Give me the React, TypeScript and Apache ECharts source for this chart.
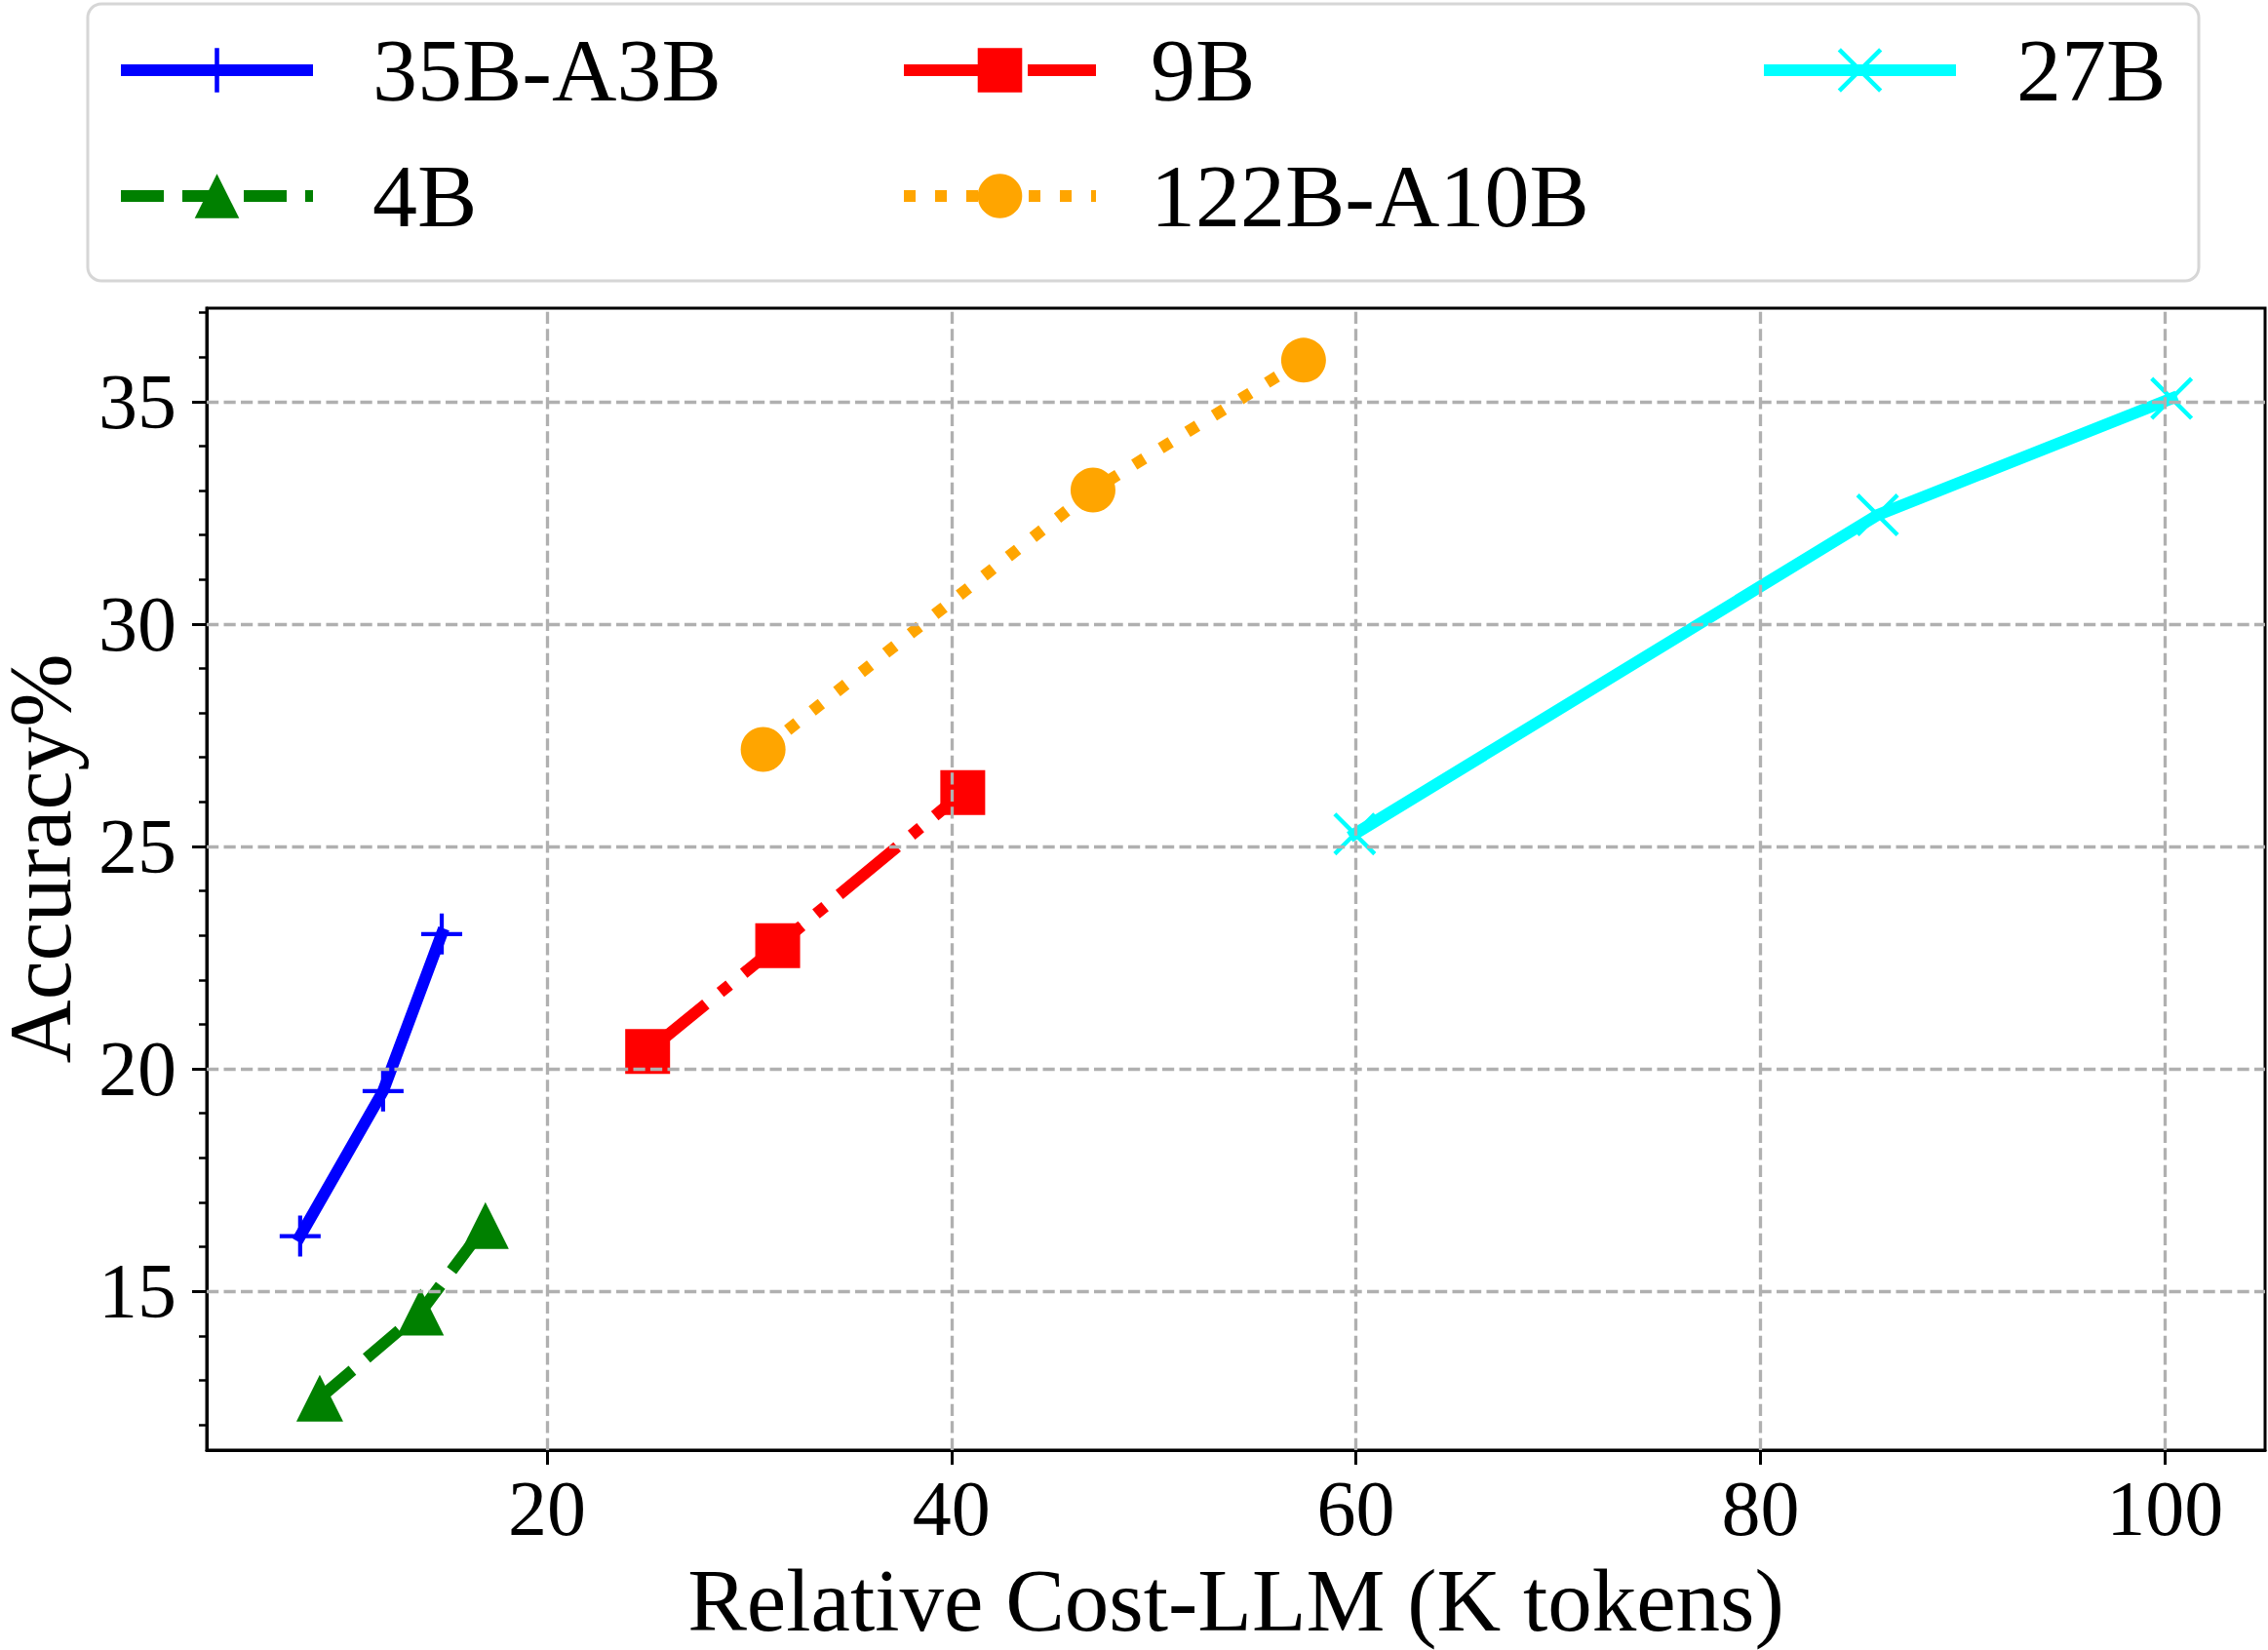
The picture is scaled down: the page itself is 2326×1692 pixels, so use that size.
import React, { useEffect, useRef } from "react";
import * as echarts from "echarts";

// ---- data ----
const X_TICKS = [20, 40, 60, 80, 100];
const Y_TICKS = [15, 20, 25, 30, 35];

const NAME_35B = "35B-A3B";
const X_35B = [7.8, 11.9, 14.8];
const Y_35B = [16.24, 19.5, 23.03];

const NAME_4B = "4B";
const X_4B = [8.77, 13.75, 16.96];
const Y_4B = [12.6, 14.53, 16.48];

const NAME_9B = "9B";
const X_9B = [24.98, 31.41, 40.56];
const Y_9B = [20.39, 22.77, 26.21];

const NAME_122B = "122B-A10B";
const X_122B = [30.69, 47.0, 57.41];
const Y_122B = [27.18, 33.01, 35.93];

const NAME_27B = "27B";
const X_27B = [59.94, 85.79, 100.33];
const Y_27B = [25.28, 32.45, 35.07];

const X_LABEL = "Relative Cost-LLM (K tokens)";
const Y_LABEL = "Accuracy%";

const FONT = "Liberation Serif";

const PLUS = "path://M45,0H55V45H100V55H55V100H45V55H0V45H45Z";
const CROSS =
  "path://M7,0L50,43L93,0L100,7L57,50L100,93L93,100L50,57L7,100L0,93L43,50L0,7Z";

const zip = (xs: number[], ys: number[]) => xs.map((x, i) => [x, ys[i]]);

export default function App() {
  const ref = useRef<HTMLDivElement>(null);

  useEffect(() => {
    if (!ref.current) return;
    const chart = echarts.init(ref.current, null, { renderer: "svg" });

    const lw = 12;
    const mkSeries = (
      name: string,
      xs: number[],
      ys: number[],
      color: string,
      symbol: string,
      symbolSize: number,
      type: any,
      cap: string,
      extra: any = {}
    ) => ({
      name,
      type: "line",
      data: zip(xs, ys),
      symbol,
      symbolSize,
      showSymbol: true,
      lineStyle: { color, width: lw, type, cap, join: "round" },
      itemStyle: { color, borderWidth: 0 },
      emphasis: { disabled: true },
      silent: true,
      z: 2,
      ...extra,
    });

    const legendItems = [
      { name: NAME_35B, left: 118, top: 26, pad: 56 },
      { name: NAME_4B, left: 118, top: 155, pad: 56 },
      { name: NAME_9B, left: 921, top: 26, pad: 51 },
      { name: NAME_122B, left: 921, top: 155, pad: 51 },
      { name: NAME_27B, left: 1803, top: 26, pad: 57 },
    ];

    const option: any = {
      animation: false,
      backgroundColor: "#ffffff",
      graphic: [
        {
          type: "rect",
          z: 0,
          silent: true,
          shape: { x: 90, y: 4, width: 2165, height: 284, r: 14 },
          style: { fill: "#ffffff", stroke: "#d6d6d6", lineWidth: 3 },
        },
      ],
      legend: legendItems.map((p) => ({
        data: [p.name],
        left: p.left,
        top: p.top,
        orient: "horizontal",
        padding: 0,
        itemGap: 0,
        itemWidth: 197,
        itemHeight: 57,
        selectedMode: false,
        lineStyle: { width: 12, cap: "butt" },
        textStyle: {
          fontFamily: FONT,
          fontSize: 92,
          lineHeight: 92,
          color: "#000",
          padding: [0, 0, 0, p.pad],
        },
      })),
      grid: {
        left: 212,
        top: 316,
        right: 3,
        bottom: 205,
        show: true,
        borderColor: "#000",
        borderWidth: 3,
        backgroundColor: "transparent",
        containLabel: false,
        outerBoundsMode: "none",
      },
      xAxis: {
        type: "value",
        min: 3.18,
        max: 104.95,
        name: X_LABEL,
        nameLocation: "middle",
        nameGap: 109,
        nameTextStyle: {
          fontFamily: FONT,
          fontSize: 91,
          lineHeight: 91,
          color: "#000",
        },
        axisLine: { show: true, lineStyle: { color: "#000", width: 3 } },
        axisTick: {
          show: true,
          inside: false,
          length: 15,
          customValues: X_TICKS,
          lineStyle: { color: "#000", width: 3 },
        },
        axisLabel: {
          show: true,
          customValues: X_TICKS,
          margin: 20,
          fontFamily: FONT,
          fontSize: 80,
          lineHeight: 80,
          color: "#000",
          formatter: (v: number) => String(Math.round(v)),
        },
        splitLine: { show: false },
      },
      yAxis: {
        type: "value",
        min: 11.43,
        max: 37.1,
        name: Y_LABEL,
        nameLocation: "middle",
        nameGap: 141,
        nameRotate: 90,
        nameTextStyle: {
          fontFamily: FONT,
          fontSize: 90,
          lineHeight: 60,
          color: "#000",
          padding: [0, 0, 0, 42],
        },
        axisLine: { show: true, lineStyle: { color: "#000", width: 3 } },
        axisTick: {
          show: true,
          inside: false,
          length: 15,
          customValues: Y_TICKS,
          lineStyle: { color: "#000", width: 3 },
        },
        minorTick: {
          show: true,
          splitNumber: 5,
          length: 8,
          lineStyle: { color: "#000", width: 2.5 },
        },
        axisLabel: {
          show: true,
          customValues: Y_TICKS,
          margin: 31,
          fontFamily: FONT,
          fontSize: 80,
          lineHeight: 80,
          color: "#000",
          formatter: (v: number) => String(Math.round(v)),
        },
        splitLine: { show: false },
        minorSplitLine: { show: false },
      },
      series: [
        mkSeries(NAME_35B, X_35B, Y_35B, "#0000ff", PLUS, 42, "solid", "square"),
        mkSeries(NAME_4B, X_4B, Y_4B, "#008000", "triangle", 48, [44, 19], "butt"),
        mkSeries(NAME_9B, X_9B, Y_9B, "#ff0000", "rect", 46, [77, 19, 12, 19], "butt"),
        mkSeries(NAME_122B, X_122B, Y_122B, "#ffa500", "circle", 46, [12, 20], "butt"),
        mkSeries(NAME_27B, X_27B, Y_27B, "#00ffff", CROSS, 44, "solid", "square", {
          markLine: {
            silent: true,
            animation: false,
            symbol: ["none", "none"],
            label: { show: false },
            emphasis: { disabled: true },
            z: 5,
            lineStyle: {
              color: "#b0b0b0",
              width: 3.3,
              type: [12.2, 5.3],
              cap: "butt",
            },
            data: [
              ...X_TICKS.map((v) => ({ xAxis: v })),
              ...Y_TICKS.map((v) => ({ yAxis: v })),
            ],
          },
        }),
      ],
    };

    chart.setOption(option);
    return () => chart.dispose();
  }, []);

  return (
    <div
      ref={ref}
      style={{
        position: "absolute",
        left: 0,
        top: 0,
        width: 2326,
        height: 1692,
        background: "#fff",
      }}
    />
  );
}
